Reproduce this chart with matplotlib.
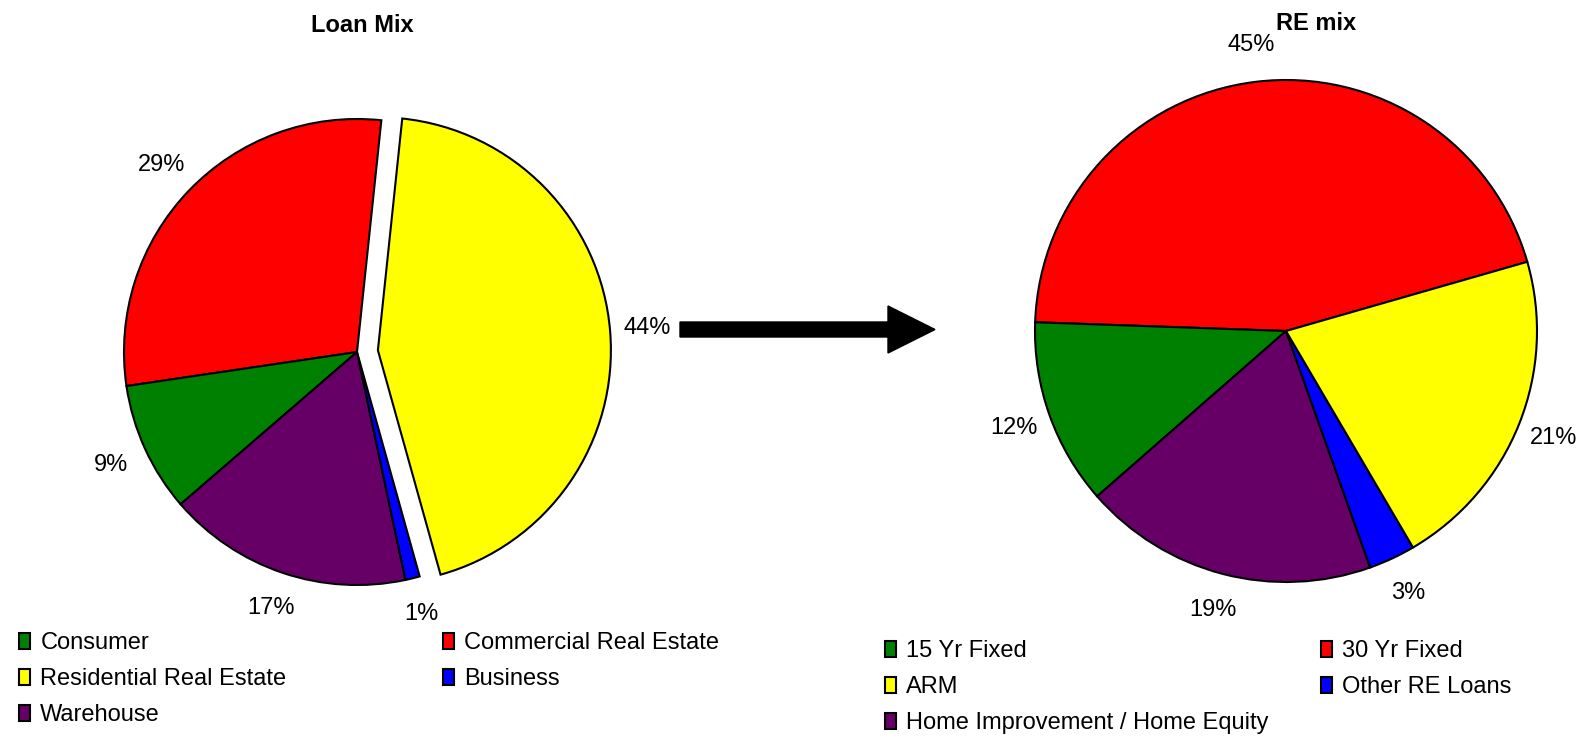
import matplotlib.pyplot as plt
from matplotlib.patches import Patch, FancyArrow

plt.rcParams['font.family'] = ['Liberation Sans', 'DejaVu Sans']

# Loan mix, drawn counter-clockwise from the top
loan_labels = ['Commercial Real Estate', 'Consumer', 'Warehouse', 'Business', 'Residential Real Estate']
loan_values = [29, 9, 17, 1, 44]
loan_colors = ['#FF0000', '#008000', '#660066', '#0000FF', '#FFFF00']
loan_explode = [0, 0, 0, 0, 0.09]
loan_legend_cols = [['Consumer', 'Residential Real Estate', 'Warehouse'],
                    ['Commercial Real Estate', 'Business']]

# Real estate mix
re_labels = ['30 Yr Fixed', '15 Yr Fixed', 'Home Improvement / Home Equity', 'Other RE Loans', 'ARM']
re_values = [45, 12, 19, 3, 21]
re_colors = ['#FF0000', '#008000', '#660066', '#0000FF', '#FFFF00']
re_legend_cols = [['15 Yr Fixed', 'ARM', 'Home Improvement / Home Equity'],
                  ['30 Yr Fixed', 'Other RE Loans']]

W, H = 1590, 738
FS = 17
fig = plt.figure(figsize=(W / 100, H / 100), dpi=100)
wedge_style = dict(edgecolor='black', linewidth=1.5)


def pie_axes(cx, cy, r):
    # square axes in pixel terms, pie radius 1 == r pixels
    half = 1.5 * r
    ax = fig.add_axes([(cx - half) / W, (H - cy - half) / H, 2 * half / W, 2 * half / H])
    ax.axis('off')
    return ax


ax1 = pie_axes(357, 352, 233)
ax1.pie(loan_values, colors=loan_colors, explode=loan_explode, startangle=84,
        counterclock=True, wedgeprops=wedge_style, autopct='%.0f%%',
        pctdistance=1.16, textprops=dict(fontsize=FS), frame=False)
ax1.set_xlim(-1.5, 1.5)
ax1.set_ylim(-1.5, 1.5)

ax2 = pie_axes(1286, 331, 251)
ax2.pie(re_values, colors=re_colors, startangle=16, counterclock=True,
        wedgeprops=wedge_style, autopct='%.0f%%', pctdistance=1.15,
        textprops=dict(fontsize=FS), frame=False)
ax2.set_xlim(-1.5, 1.5)
ax2.set_ylim(-1.5, 1.5)

fig.text(362 / W, 1 - 26 / H, 'Loan Mix', ha='center', va='center', fontsize=FS, fontweight='bold')
fig.text(1316 / W, 1 - 23 / H, 'RE mix', ha='center', va='center', fontsize=FS, fontweight='bold')

# arrow between the two pies
over = fig.add_axes([0, 0, 1, 1])
over.set_xlim(0, W)
over.set_ylim(H, 0)
over.axis('off')
over.add_patch(FancyArrow(680, 329.5, 255, 0, width=15, head_width=47, head_length=47,
                          length_includes_head=True, color='black'))


def add_legend(labels, names, colors, x, y):
    lookup = dict(zip(names, colors))
    handles = [Patch(facecolor=lookup[n], edgecolor='black', linewidth=1.5) for n in labels]
    leg = fig.legend(handles, labels, loc='upper left', bbox_to_anchor=(x / W, 1 - y / H),
                     frameon=False, fontsize=FS, handlelength=0.45, handleheight=0.65,
                     handletextpad=0.45, labelspacing=0.6, borderaxespad=0, borderpad=0)
    return leg


add_legend(loan_legend_cols[0], loan_labels, loan_colors, 19, 632)
add_legend(loan_legend_cols[1], loan_labels, loan_colors, 443, 632)
add_legend(re_legend_cols[0], re_labels, re_colors, 885, 640)
add_legend(re_legend_cols[1], re_labels, re_colors, 1321, 640)

fig.savefig('out.png', dpi=100)
